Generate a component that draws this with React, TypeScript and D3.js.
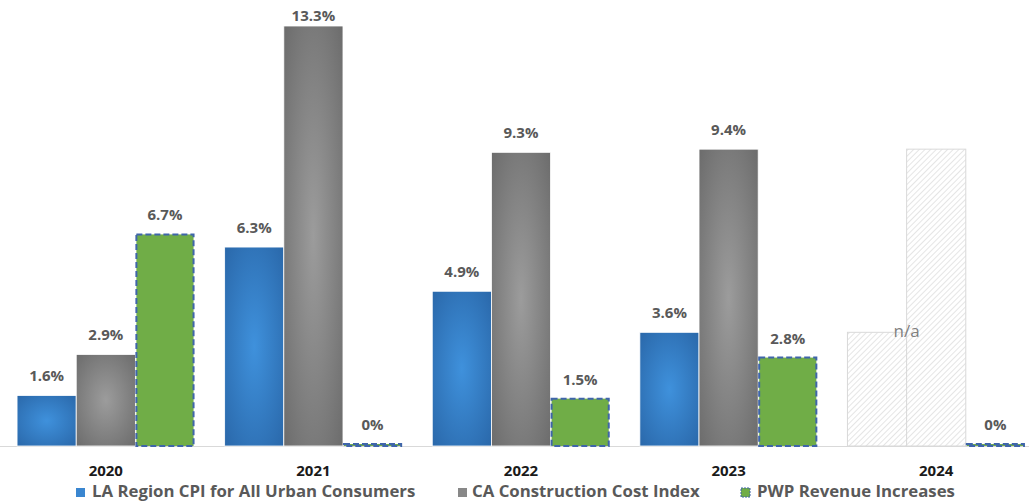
import React, { useEffect, useRef } from 'react';
import * as d3 from 'd3';

const years = ['2020', '2021', '2022', '2023', '2024'];
const seriesNames = ['LA Region CPI for All Urban Consumers', 'CA Construction Cost Index', 'PWP Revenue Increases'];
const cpiValues = [1.6, 6.3, 4.9, 3.6, 3.6];
const cciValues = [2.9, 13.3, 9.3, 9.4, 9.4];
const pwpValues = [6.7, 0, 1.5, 2.8, 0];
// 2024 CPI / CCI not published yet: shown as hatched placeholders
const placeholderYears = ['2024'];

const W = 1029;
const H = 503;
const FONT = '"Open Sans", Lato, sans-serif';

const App = () => {
  const svgRef = useRef<SVGSVGElement>(null);

  useEffect(() => {
    const svg = d3.select(svgRef.current);
    svg.selectAll('*').remove();

    const baseY = 446;
    const x0 = d3.scaleBand().domain(years).range([2, 1040]).paddingInner(0.145).paddingOuter(0.0725);
    const x1 = d3.scaleBand().domain(['cpi', 'cci', 'pwp']).range([0, x0.bandwidth()]);
    const y = d3.scaleLinear().domain([0, 13.3]).range([baseY, 26]);

    const defs = svg.append('defs');
    const radial = (id, inner, outer) => {
      const g = defs.append('radialGradient').attr('id', id).attr('cx', '50%').attr('cy', '50%').attr('r', '70%');
      g.append('stop').attr('offset', '0%').attr('stop-color', inner);
      g.append('stop').attr('offset', '100%').attr('stop-color', outer);
    };
    radial('blue-grad', '#3f91dc', '#2a68aa');
    radial('gray-grad', '#9c9c9c', '#6c6c6c');

    const hatch = defs.append('pattern').attr('id', 'hatch').attr('patternUnits', 'userSpaceOnUse')
      .attr('width', 4).attr('height', 4).attr('patternTransform', 'rotate(45)');
    hatch.append('rect').attr('width', 4).attr('height', 4).attr('fill', '#fff');
    hatch.append('line').attr('x1', 0).attr('y1', 0).attr('x2', 0).attr('y2', 4)
      .attr('stroke', '#d4d4d4').attr('stroke-width', 1.2);

    const rows = years.map((yr, i) => ({ yr, cpi: cpiValues[i], cci: cciValues[i], pwp: pwpValues[i] }));

    // value label sits 14px above the bar, but never above the top edge
    const labelY = top => Math.max(top - 14, 21);

    // axis line
    svg.append('line').attr('x1', 0).attr('x2', W).attr('y1', baseY + 0.5).attr('y2', baseY + 0.5)
      .attr('stroke', '#d9d9d9').attr('stroke-width', 1);

    const groups = svg.selectAll('.grp').data(rows).enter().append('g')
      .attr('transform', d => `translate(${x0(d.yr)},0)`);

    groups.each(function (d) {
      const g = d3.select(this);
      const ph = placeholderYears.includes(d.yr);
      [['cpi', d.cpi], ['cci', d.cci]].forEach(([k, v]) => {
        g.append('rect')
          .attr('x', x1(k as string))
          .attr('y', y(v as number))
          .attr('width', x1.bandwidth())
          .attr('height', baseY - y(v as number))
          .attr('fill', ph ? 'url(#hatch)' : k === 'cpi' ? 'url(#blue-grad)' : 'url(#gray-grad)')
          .attr('stroke', ph ? '#d9d9d9' : '#fff')
          .attr('stroke-width', ph ? 1 : 0.8);
        if (!ph) {
          g.append('text')
            .attr('x', x1(k as string) + x1.bandwidth() / 2)
            .attr('y', labelY(y(v as number)))
            .attr('text-anchor', 'middle')
            .attr('font-family', FONT).attr('font-size', 15).attr('font-weight', 700)
            .attr('fill', '#595959')
            .text(`${v}%`);
        }
      });
      if (ph) {
        g.append('text')
          .attr('x', x1('cpi') + x1.bandwidth())
          .attr('y', y(d.cpi) + 5)
          .attr('text-anchor', 'middle')
          .attr('font-family', FONT).attr('font-size', 17)
          .attr('fill', '#7f7f7f')
          .text('n/a');
      }
      const hp = Math.max(baseY - y(d.pwp), 2);
      g.append('rect')
        .attr('x', x1('pwp') + 1)
        .attr('y', baseY - hp)
        .attr('width', x1.bandwidth() - 2)
        .attr('height', hp)
        .attr('fill', '#70ad47')
        .attr('stroke', '#3f65aa')
        .attr('stroke-width', 2)
        .attr('stroke-dasharray', '6,3');
      g.append('text')
        .attr('x', x1('pwp') + x1.bandwidth() / 2)
        .attr('y', labelY(baseY - hp))
        .attr('text-anchor', 'middle')
        .attr('font-family', FONT).attr('font-size', 15).attr('font-weight', 700)
        .attr('fill', '#595959')
        .text(`${d.pwp}%`);
    });

    // year labels
    svg.selectAll('.yr').data(years).enter().append('text')
      .attr('x', d => x0(d) + x0.bandwidth() / 2)
      .attr('y', 476)
      .attr('text-anchor', 'middle')
      .attr('font-family', FONT).attr('font-size', 15).attr('font-weight', 700)
      .attr('fill', '#1a1a1a')
      .text(d => d);

    // legend
    const markerX = [76, 458, 741];
    const textX = [92, 472, 757];
    const legendFill = ['#3a86d0', '#888888', '#70ad47'];
    const lg = svg.selectAll('.lg').data(seriesNames).enter().append('g');
    lg.append('rect')
      .attr('x', (d, i) => markerX[i]).attr('y', 488)
      .attr('width', 9).attr('height', 9)
      .attr('fill', (d, i) => legendFill[i])
      .attr('stroke', (d, i) => (i === 2 ? '#3f65aa' : 'none'))
      .attr('stroke-width', 1).attr('stroke-dasharray', '2,1');
    lg.append('text')
      .attr('x', (d, i) => textX[i]).attr('y', 497)
      .attr('font-family', FONT).attr('font-size', 16.8).attr('font-weight', 700)
      .attr('fill', '#595959')
      .text(d => d);
  }, []);

  return (
    <div style={{ position: 'fixed', left: 0, top: 0, width: W, height: H, overflow: 'hidden', background: '#fff' }}>
      <svg ref={svgRef} width={W} height={H} style={{ display: 'block' }} />
    </div>
  );
};

export default App;
